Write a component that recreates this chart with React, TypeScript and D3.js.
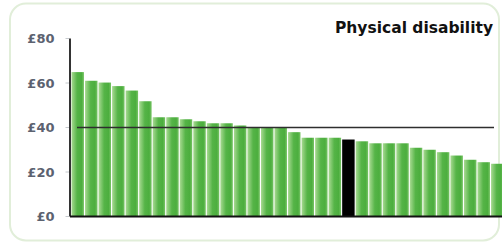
import React from "react";
import * as d3 from "d3";

// spending per person, sorted high to low; one highlighted council
const values = [
  64.9, 61, 60.2, 58.6, 56.6, 51.8, 44.6, 44.6, 43.7, 42.8, 41.9, 41.9, 40.9, 40.2, 40, 40,
  37.9, 35.4, 35.4, 35.4, 34.6, 33.8, 32.9, 32.9, 32.9, 30.9, 30, 28.9, 27.4, 25.5, 24.4, 23.7,
];
const highlightIndex = 20;
const average = 40;
const yTicks = [0, 20, 40, 60, 80];
const title = "Physical disability";

const W = 502;
const H = 247;

export default function App() {
  const x = d3
    .scaleBand<number>()
    .domain(values.map((_, i) => i))
    .range([71.5, 503.5])
    .paddingInner(0.08)
    .paddingOuter(0);

  const y = d3.scaleLinear().domain([0, 80]).range([216.5, 38.5]);

  return (
    <svg
      width={W}
      height={H}
      style={{ position: "fixed", left: 0, top: 0, background: "#fff" }}
    >
      <defs>
        <linearGradient id="barGrad" x1="0" x2="1" y1="0" y2="0">
          <stop offset="0%" stopColor="#a8da92" />
          <stop offset="45%" stopColor="#55b447" />
          <stop offset="80%" stopColor="#4cae3e" />
          <stop offset="100%" stopColor="#78c466" />
        </linearGradient>
      </defs>

      {/* panel frame */}
      <rect
        x={10}
        y={3.5}
        width={489}
        height={237}
        rx={16}
        fill="#fff"
        stroke="#e1eed9"
        strokeWidth={2}
      />

      <text
        x={493}
        y={33}
        textAnchor="end"
        fontFamily="DejaVu Sans, Verdana, sans-serif"
        fontWeight="bold"
        fontSize={15.5}
        fill="#111"
      >
        {title}
      </text>

      {/* y ticks */}
      {yTicks.map((t) => (
        <g key={t}>
          <line x1={65.5} x2={69} y1={y(t)} y2={y(t)} stroke="#c4c8cc" strokeWidth={1} />
          <text
            x={54.5}
            y={y(t)}
            dy="0.36em"
            textAnchor="end"
            fontFamily="DejaVu Sans, Verdana, sans-serif"
            fontWeight="bold"
            fontSize={13}
            fill="#5c6270"
          >
            {"£" + t}
          </text>
        </g>
      ))}

      {/* bars */}
      {values.map((v, i) => (
        <rect
          key={i}
          x={x(i)}
          y={y(v)}
          width={x.bandwidth()}
          height={y(0) - y(v)}
          fill={i === highlightIndex ? "#000" : "url(#barGrad)"}
        />
      ))}

      {/* average line */}
      <line
        x1={77}
        x2={494}
        y1={y(average)}
        y2={y(average)}
        stroke="#2e2e2e"
        strokeWidth={1.6}
      />

      {/* axes */}
      <line x1={70} x2={70} y1={y(80)} y2={y(0)} stroke="#000" strokeWidth={1.6} />
      <line x1={70} x2={503} y1={y(0)} y2={y(0)} stroke="#111" strokeWidth={2} />
    </svg>
  );
}
